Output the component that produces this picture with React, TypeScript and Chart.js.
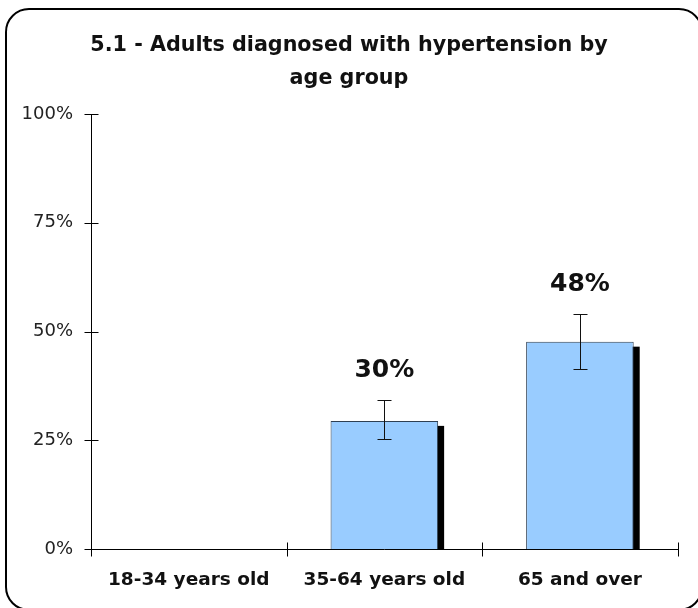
import React, { useEffect, useRef } from 'react';
import { Chart, registerables } from 'chart.js';

Chart.register(...registerables);

const categories = ['18-34 years old', '35-64 years old', '65 and over'];
const values: (number | null)[] = [null, 29.5, 47.7];
const errorLow: (number | null)[] = [null, 25.3, 41.4];
const errorHigh: (number | null)[] = [null, 34.2, 54.0];
const yTickValues = [0, 25, 50, 75, 100];
const titleLines = ['5.1 - Adults diagnosed with hypertension by', 'age group'];

const FONT = '"DejaVu Sans", Verdana, sans-serif';

const decorPlugin = {
  id: 'decor',
  beforeDatasetsDraw(chart: any) {
    const ctx = chart.ctx;
    const meta = chart.getDatasetMeta(0);
    ctx.save();
    meta.data.forEach((bar: any, i: number) => {
      if (values[i] == null) return;
      const { x, y, base, width } = bar.getProps(['x', 'y', 'base', 'width'], true);
      ctx.fillStyle = '#000';
      ctx.fillRect(x - width / 2 + 6, y + 5, width, base - y - 5);
    });
    ctx.restore();
  },
  afterDatasetsDraw(chart: any) {
    const ctx = chart.ctx;
    const meta = chart.getDatasetMeta(0);
    const yScale = chart.scales.y;
    const xScale = chart.scales.x;
    const area = chart.chartArea;
    ctx.save();
    meta.data.forEach((bar: any, i: number) => {
      const v = values[i];
      const lo = errorLow[i];
      const hi = errorHigh[i];
      if (v == null || lo == null || hi == null) return;
      const { x } = bar.getProps(['x'], true);
      const xc = Math.round(x) + 0.5;
      const yHi = Math.round(yScale.getPixelForValue(hi)) + 0.5;
      const yLo = Math.round(yScale.getPixelForValue(lo)) + 0.5;
      ctx.strokeStyle = '#111';
      ctx.lineWidth = 1;
      ctx.beginPath();
      ctx.moveTo(xc, yHi);
      ctx.lineTo(xc, yLo);
      ctx.moveTo(xc - 7, yHi);
      ctx.lineTo(xc + 7, yHi);
      ctx.moveTo(xc - 7, yLo);
      ctx.lineTo(xc + 7, yLo);
      ctx.stroke();
      ctx.fillStyle = '#111';
      ctx.font = 'bold 25px ' + FONT;
      ctx.textAlign = 'center';
      ctx.textBaseline = 'alphabetic';
      ctx.fillText(Math.round(v) + '%', x, yHi - 24);
    });
    ctx.strokeStyle = '#000';
    ctx.lineWidth = 1;
    ctx.beginPath();
    const ax = Math.round(area.left) + 0.5;
    yTickValues.forEach((t) => {
      const yy = Math.round(yScale.getPixelForValue(t)) + 0.5;
      ctx.moveTo(ax - 7, yy);
      ctx.lineTo(ax + (t === 0 ? 0 : 7), yy);
    });
    const by = Math.round(area.bottom) + 0.5;
    const half = (xScale.getPixelForValue(1) - xScale.getPixelForValue(0)) / 2;
    for (let i = 0; i <= categories.length; i++) {
      const bx = Math.round(xScale.getPixelForValue(0) - half + i * 2 * half) + 0.5;
      ctx.moveTo(bx, by + 7);
      ctx.lineTo(bx, i === 0 ? by : by - 7);
    }
    ctx.stroke();
    ctx.restore();
  },
  afterDraw(chart: any) {
    const ctx = chart.ctx;
    ctx.save();
    ctx.fillStyle = '#111';
    ctx.font = 'bold 20.7px ' + FONT;
    ctx.textAlign = 'center';
    ctx.textBaseline = 'middle';
    ctx.fillText(titleLines[0], 349, 46);
    ctx.fillText(titleLines[1], 349, 79);
    ctx.restore();
  },
};

export default function App() {
  const canvasRef = useRef<HTMLCanvasElement | null>(null);

  useEffect(() => {
    if (!canvasRef.current) return;
    const chart = new Chart(canvasRef.current, {
      type: 'bar',
      data: {
        labels: categories,
        datasets: [
          {
            data: values as any,
            backgroundColor: '#99CCFF',
            borderColor: '#2e3f52',
            borderWidth: 1,
            barPercentage: 0.55,
            categoryPercentage: 1,
          },
        ],
      },
      options: {
        animation: false,
        responsive: true,
        maintainAspectRatio: false,
        layout: { padding: { top: 114, right: 20.3, left: 0, bottom: 0 } },
        plugins: {
          legend: { display: false },
          title: { display: false },
          tooltip: { enabled: false },
        },
        scales: {
          x: {
            grid: { display: false, drawTicks: false },
            border: { display: true, color: '#000', width: 1 },
            ticks: {
              font: { family: FONT, size: 18.5, weight: 'bold' },
              color: '#111',
              padding: 20,
              maxRotation: 0,
              autoSkip: false,
            },
            afterFit: (s: any) => {
              s.height = 58.7;
            },
          },
          y: {
            min: 0,
            max: 100,
            grid: { display: false, drawTicks: false },
            border: { display: true, color: '#000', width: 1 },
            ticks: {
              stepSize: 25,
              font: { family: FONT, size: 18 },
              color: '#222',
              padding: 18,
              callback: (v: any) => v + '%',
            },
            afterFit: (s: any) => {
              s.width = 91;
            },
          },
        },
      },
      plugins: [decorPlugin],
    });
    return () => chart.destroy();
  }, []);

  return (
    <div style={{ position: 'fixed', left: 0, top: 0, width: 698, height: 608, background: '#fff', overflow: 'hidden' }}>
      <div style={{ position: 'absolute', left: 0, top: 0, width: 698, height: 608 }}>
        <canvas ref={canvasRef} />
      </div>
      <div
        style={{
          position: 'absolute',
          left: 5,
          top: 7.5,
          width: 698,
          height: 603,
          boxSizing: 'border-box',
          border: '2px solid #000',
          borderRadius: 24,
          pointerEvents: 'none',
        }}
      />
    </div>
  );
}
